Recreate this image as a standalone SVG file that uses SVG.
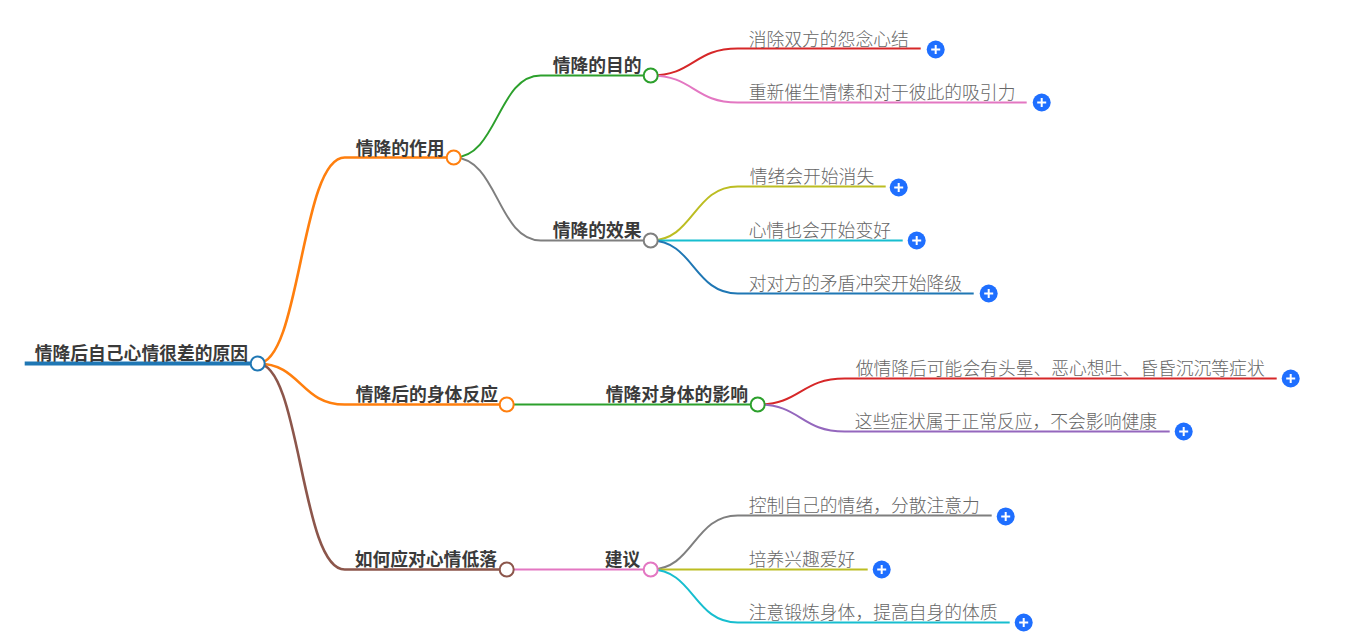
<svg xmlns="http://www.w3.org/2000/svg" width="1371" height="634" viewBox="0 0 1371 634">
<style>
text{font-family:"Noto Sans CJK SC","Microsoft YaHei",sans-serif;font-size:17.8px}
.b{font-weight:700;fill:#3a3a3a}
.l{font-weight:300;fill:#666}
#connectors path{fill:none;stroke-width:2;stroke-linecap:butt}
#connectors path.t{stroke-width:2.6}
.d{fill:#fff;stroke-width:2}
.pc{fill:#1f6fff}
.pl{stroke:#fff;stroke-width:2;fill:none}
</style>
<defs>
<g id="plus"><circle class="pc" r="9"/><path class="pl" d="M-4.500 0H4.500M0-4.500V4.500"/></g>
</defs>
<rect width="1371" height="634" fill="#fff"/>
<g transform="translate(-0.3 0.5)">
<g id="connectors">
<path d="M25 363H251" stroke="#1f77b4" style="stroke-width:4"/>
<path class="t" d="M258 363C301 363 301 157 345 157H447" stroke="#ff7f0e"/>
<path class="t" d="M258 363C301 363 301 404 345 404H500" stroke="#ff7f0e"/>
<path class="t" d="M258 363C301 363 301 569 345 569H500" stroke="#8c564b"/>
<path d="M454 157C498 157 498 75 541 75H644" stroke="#2ca02c"/>
<path d="M454 157C498 157 498 240 541 240H644" stroke="#7f7f7f"/>
<path d="M514 404H751" stroke="#2ca02c"/>
<path d="M514 569H644" stroke="#e377c2"/>
<path d="M651 75C694 75 694 48 738 48H921" stroke="#d62728"/>
<path d="M651 75C694 75 694 102 738 102H1027" stroke="#e377c2"/>
<path d="M651 240C694 240 694 186 738 186H886" stroke="#bcbd22"/>
<path d="M658 240H903" stroke="#17becf"/>
<path d="M651 240C694 240 694 293 738 293H974" stroke="#1f77b4"/>
<path d="M758 404C801 404 801 378 845 378H1277" stroke="#d62728"/>
<path d="M758 404C801 404 801 431 845 431H1170" stroke="#9467bd"/>
<path d="M651 569C694 569 694 515 738 515H992" stroke="#7f7f7f"/>
<path d="M658 569H868" stroke="#bcbd22"/>
<path d="M651 569C694 569 694 622 738 622H1010" stroke="#17becf"/>
</g>
<g id="n0"><text class="b" x="35" y="359">情降后自己心情很差的原因</text><circle class="d" cx="258" cy="363" r="7" stroke="#1f77b4"/></g>
<g id="n1"><text class="b" x="356" y="154">情降的作用</text><circle class="d" cx="454" cy="157" r="7" stroke="#ff7f0e"/></g>
<g id="n2"><text class="b" x="356" y="400">情降后的身体反应</text><circle class="d" cx="507" cy="404" r="7" stroke="#ff7f0e"/></g>
<g id="n3"><text class="b" x="355" y="565">如何应对心情低落</text><circle class="d" cx="507" cy="569" r="7" stroke="#8c564b"/></g>
<g id="n4"><text class="b" x="553" y="71">情降的目的</text><circle class="d" cx="651" cy="75" r="7" stroke="#2ca02c"/></g>
<g id="n5"><text class="b" x="553" y="236">情降的效果</text><circle class="d" cx="651" cy="240" r="7" stroke="#7f7f7f"/></g>
<g id="n6"><text class="b" x="606" y="400">情降对身体的影响</text><circle class="d" cx="758" cy="404" r="7" stroke="#2ca02c"/></g>
<g id="n7"><text class="b" x="605" y="565">建议</text><circle class="d" cx="651" cy="569" r="7" stroke="#e377c2"/></g>
<g id="n8"><text class="l" x="749" y="45">消除双方的怨念心结</text><use href="#plus" x="936" y="49"/></g>
<g id="n9"><text class="l" x="749" y="98">重新催生情愫和对于彼此的吸引力</text><use href="#plus" x="1042" y="102"/></g>
<g id="n10"><text class="l" x="750" y="182">情绪会开始消失</text><use href="#plus" x="899" y="187"/></g>
<g id="n11"><text class="l" x="749" y="236">心情也会开始变好</text><use href="#plus" x="917" y="240"/></g>
<g id="n12"><text class="l" x="749" y="289">对对方的矛盾冲突开始降级</text><use href="#plus" x="989" y="293"/></g>
<g id="n13"><text class="l" x="856" y="374">做情降后可能会有头晕、恶心想吐、昏昏沉沉等症状</text><use href="#plus" x="1291" y="378"/></g>
<g id="n14"><text class="l" x="855" y="427">这些症状属于正常反应，不会影响健康</text><use href="#plus" x="1184" y="431"/></g>
<g id="n15"><text class="l" x="749" y="511">控制自己的情绪，分散注意力</text><use href="#plus" x="1006" y="516"/></g>
<g id="n16"><text class="l" x="749" y="565">培养兴趣爱好</text><use href="#plus" x="882" y="569"/></g>
<g id="n17"><text class="l" x="749" y="618">注意锻炼身体，提高自身的体质</text><use href="#plus" x="1024" y="622"/></g>
</g>
</svg>
